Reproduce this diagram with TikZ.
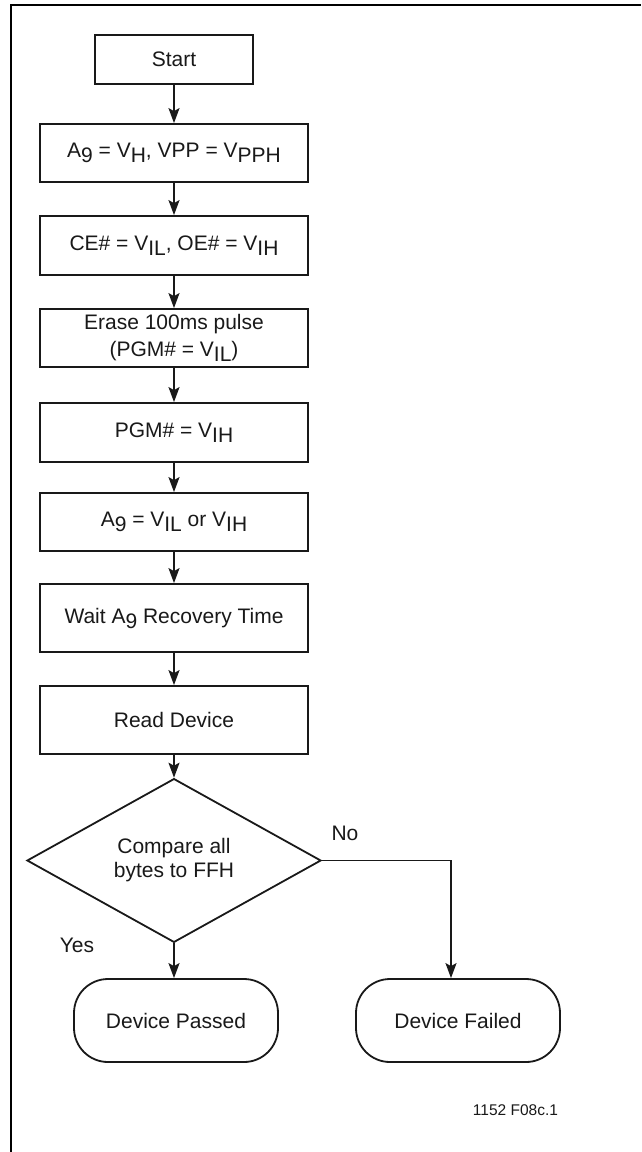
\documentclass[tikz,border=0pt]{standalone}
\usepackage{fontspec}
\setmainfont{Liberation Sans}
\usetikzlibrary{arrows.meta,shapes.geometric}
\newcommand\sbs[1]{\raisebox{-5pt}{#1}}
\begin{document}
\begin{tikzpicture}[x=1pt,y=-1pt,
  every node/.style={font=\fontsize{21}{27}\selectfont, text=black!90, align=center, inner sep=0pt},
  stepbox/.style={draw=black!90, line width=1.8pt, minimum width=268pt},
  termbox/.style={draw=black!90, line width=1.8pt, rounded corners=34pt, minimum width=204pt, minimum height=83pt},
  decbox/.style={draw=black!90, line width=1.8pt, diamond, minimum width=294pt, minimum height=143pt},
  flow/.style={draw=black!90, line width=1.8pt, -{Stealth[length=15pt,width=11pt,inset=3pt]}},
  lbl/.style={font=\fontsize{21}{25}\selectfont}
]
\useasboundingbox (0,0) rectangle (641,1152);
\fill[white] (0,0) rectangle (641,1152);
% frame
\draw[line width=2.2pt, black] (11,1152) -- (11,5) -- (641,5);

\node[stepbox, minimum width=158pt, minimum height=49pt] (start) at (174,59.5) {Start};
\node[stepbox, minimum height=58pt] (a9h) at (174,153) {A\sbs{9} = V\sbs{H}, VPP = V\sbs{PPH}};
\node[stepbox, minimum height=59pt] (ce) at (174,245.5) {CE\# = V\sbs{IL}, OE\# = V\sbs{IH}};
\node[stepbox, minimum height=58pt] (erase) at (174,338) {Erase 100ms pulse\\(PGM\# = V\sbs{IL})};
\node[stepbox, minimum height=59pt] (pgm) at (174,432.5) {PGM\# = V\sbs{IH}};
\node[stepbox, minimum height=58pt] (a9l) at (174,522) {A\sbs{9} = V\sbs{IL} or V\sbs{IH}};
\node[stepbox, minimum height=68pt] (wait) at (174,618) {Wait A\sbs{9} Recovery Time};
\node[stepbox, minimum height=68pt] (read) at (174,720) {Read Device};
\node[decbox, font=\fontsize{21}{24}\selectfont] (dia) at (174,860.5) {Compare all\\bytes to FFH};
\node[termbox] (passed) at (176,1020.5) {Device Passed};
\node[termbox] (failed) at (458,1020.5) {Device Failed};

\node[lbl] (no) at (345,833) {No};
\node[lbl] (yes) at (77,945) {Yes};
\node[font=\fontsize{15.5}{18}\selectfont] (fig) at (515.5,1110) {1152 F08c.1};

\draw[flow] (start) -- (a9h);
\draw[flow] (a9h) -- (ce);
\draw[flow] (ce) -- (erase);
\draw[flow] (erase) -- (pgm);
\draw[flow] (pgm) -- (a9l);
\draw[flow] (a9l) -- (wait);
\draw[flow] (wait) -- (read);
\draw[flow] (read) -- (dia);
\draw[flow] (dia.south) -- (dia.south |- passed.north);
\coordinate (fin) at ([xshift=-7pt]failed.north);
\draw[flow] (dia.east) -| (fin);
\end{tikzpicture}
\end{document}
